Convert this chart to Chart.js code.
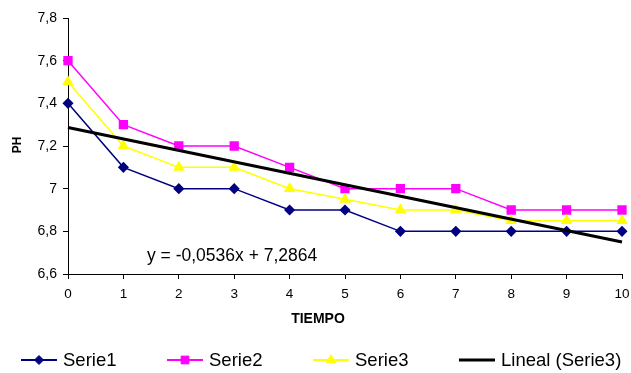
<!DOCTYPE html>
<html>
<head>
<meta charset="utf-8">
<script src="https://cdn.jsdelivr.net/npm/chart.js@4.4.1/dist/chart.umd.min.js"></script>
<style>
  html, body { margin: 0; padding: 0; background: #fff; }
  #wrap { width: 631px; height: 373px; }
</style>
</head>
<body>
<div id="wrap"><canvas id="ph-chart" width="631" height="373"></canvas></div>
<script>
const FONT = '"Liberation Sans", Arial, sans-serif';

// TIEMPO (x) values
const tiempo = [0, 1, 2, 3, 4, 5, 6, 7, 8, 9, 10];
const serie1 = [7.4, 7.1, 7.0, 7.0, 6.9, 6.9, 6.8, 6.8, 6.8, 6.8, 6.8];
const serie2 = [7.6, 7.3, 7.2, 7.2, 7.1, 7.0, 7.0, 7.0, 6.9, 6.9, 6.9];
const serie3 = [7.5, 7.2, 7.1, 7.1, 7.0, 6.95, 6.9, 6.9, 6.85, 6.85, 6.85];

// linear trend of Serie3, end points as shown
const trendX = [0, 10];
const trendY = [7.2864, 6.7504];
const equation = 'y = -0,0536x + 7,2864';

const toPoints = (xs, ys) => xs.map((x, i) => ({x: x, y: ys[i]}));
const fmt = v => String(Math.round(v * 10) / 10).replace('.', ',');

const legendPlugin = {
	id: 'excelLegend',
	afterDraw(chart) {
		const ctx = chart.ctx;
		ctx.save();
		ctx.fillStyle = '#000';

		// trend equation
		ctx.font = '17.5px ' + FONT;
		ctx.textAlign = 'left';
		ctx.textBaseline = 'alphabetic';
		ctx.fillText(equation, 147, 261);

		// axis titles
		ctx.font = 'bold 14px ' + FONT;
		ctx.textAlign = 'center';
		ctx.fillText('TIEMPO', 318, 323);
		ctx.save();
		ctx.translate(21, 145);
		ctx.rotate(-Math.PI / 2);
		ctx.font = 'bold 12px ' + FONT;
		ctx.fillText('PH', 0, 0);
		ctx.restore();

		// legend: line with marker, then label
		const helpers = Chart.helpers;
		chart.data.datasets.forEach((ds, i) => {
			const x0 = 21 + i * 146;
			const y = 360;
			ctx.strokeStyle = ds.borderColor;
			ctx.lineWidth = ds.borderWidth === 3 ? 3 : 2;
			ctx.beginPath();
			ctx.moveTo(x0, y);
			ctx.lineTo(x0 + 36, y);
			ctx.stroke();
			if (ds.pointRadius > 0 && helpers && helpers.drawPoint) {
				ctx.fillStyle = ds.pointBackgroundColor;
				ctx.strokeStyle = ds.pointBorderColor;
				ctx.lineWidth = 1;
				helpers.drawPoint(ctx, {pointStyle: ds.pointStyle, radius: ds.pointRadius, rotation: 0, borderWidth: 1}, x0 + 18, y);
			}
			ctx.fillStyle = '#000';
			ctx.font = '18.5px ' + FONT;
			ctx.textAlign = 'left';
			ctx.textBaseline = 'alphabetic';
			ctx.fillText(ds.label, x0 + 42, 366);
		});
		ctx.restore();
	},
};

const el = document.getElementById('ph-chart');
new Chart(el, {
	type: 'line',
	data: {
		datasets: [
			{
				label: 'Serie1',
				data: toPoints(tiempo, serie1),
				borderColor: '#000080',
				backgroundColor: '#000080',
				borderWidth: 1.5,
				pointStyle: 'rectRot',
				pointRadius: 4.5,
				pointBackgroundColor: '#000080',
				pointBorderColor: '#000080',
				order: 4,
				clip: false,
			},
			{
				label: 'Serie2',
				data: toPoints(tiempo, serie2),
				borderColor: '#ff00ff',
				backgroundColor: '#ff00ff',
				borderWidth: 1.5,
				pointStyle: 'rect',
				pointRadius: 5.5,
				pointBackgroundColor: '#ff00ff',
				pointBorderColor: '#ff00ff',
				order: 3,
				clip: false,
			},
			{
				label: 'Serie3',
				data: toPoints(tiempo, serie3),
				borderColor: '#ffff00',
				backgroundColor: '#ffff00',
				borderWidth: 1.5,
				pointStyle: 'triangle',
				pointRadius: 5.2,
				pointBackgroundColor: '#ffff00',
				pointBorderColor: '#ffff00',
				order: 2,
				clip: false,
			},
			{
				label: 'Lineal (Serie3)',
				data: toPoints(trendX, trendY),
				borderColor: '#000000',
				backgroundColor: '#000000',
				borderWidth: 3,
				pointRadius: 0,
				order: 1,
				clip: false,
			},
		],
	},
	options: {
		responsive: false,
		animation: false,
		layout: {padding: {left: 0, top: 18, right: 9, bottom: 0}},
		elements: {line: {tension: 0}},
		scales: {
			x: {
				type: 'linear',
				min: 0,
				max: 10,
				afterFit: s => { s.height = 99; s.paddingLeft = 0; s.paddingRight = 0; },
				grid: {drawOnChartArea: false, drawTicks: true, tickLength: 5, color: '#000'},
				border: {color: '#000', width: 1},
				ticks: {stepSize: 1, color: '#000', padding: 7, font: {size: 13.5, family: FONT}, maxRotation: 0},
			},
			y: {
				min: 6.6,
				max: 7.8,
				afterFit: s => { s.width = 68; s.paddingTop = 0; s.paddingBottom = 0; },
				grid: {drawOnChartArea: false, drawTicks: true, tickLength: 5, color: '#000'},
				border: {color: '#000', width: 1},
				ticks: {stepSize: 0.2, color: '#000', padding: 6, font: {size: 14, family: FONT}, callback: v => fmt(v)},
			},
		},
		plugins: {
			legend: {display: false},
			tooltip: {enabled: false},
		},
	},
	plugins: [legendPlugin],
});
</script>
</body>
</html>
